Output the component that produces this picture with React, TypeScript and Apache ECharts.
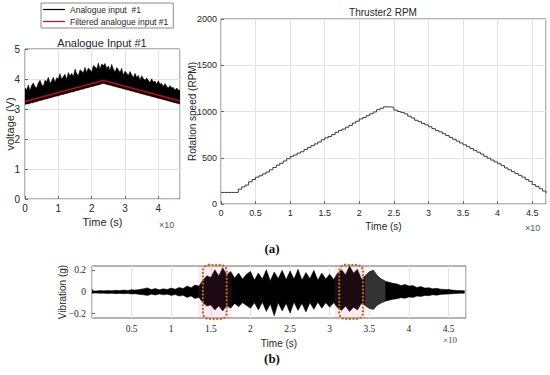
import React, { useEffect, useRef } from "react";
import * as echarts from "echarts";

// ---------- data ----------
const STEP = 0.05; // sample spacing of the envelopes below (x10 s)

// Analogue input #1: upper / lower envelope of the raw signal (V), t = 0 .. 4.65
const AIN_UP = [
  3.70, 3.64, 3.80, 3.62, 3.79, 3.87, 3.74, 3.71, 3.87, 3.96,
  3.82, 3.76, 3.96, 3.91, 4.06, 3.86, 3.93, 4.06, 3.89, 4.04,
  4.01, 4.18, 3.99, 4.08, 4.16, 3.98, 4.22, 4.10, 4.19, 4.08,
  4.33, 4.18, 4.12, 4.31, 4.26, 4.21, 4.39, 4.22, 4.37, 4.31,
  4.23, 4.45, 4.40, 4.34, 4.53, 4.33, 4.50, 4.45, 4.52, 4.36,
  4.43, 4.29, 4.49, 4.33, 4.23, 4.38, 4.31, 4.22, 4.36, 4.13,
  4.26, 4.20, 4.12, 4.25, 4.14, 4.05, 4.19, 4.06, 4.12, 3.97,
  4.11, 4.02, 3.96, 4.03, 3.96, 3.88, 4.01, 3.90, 3.93, 3.83,
  3.94, 3.83, 3.85, 3.75, 3.85, 3.76, 3.70, 3.78, 3.71, 3.72,
  3.63, 3.70, 3.63, 3.63,
];
const AIN_LO = [
  3.15, 3.17, 3.17, 3.19, 3.21, 3.21, 3.24, 3.24, 3.27, 3.28,
  3.29, 3.31, 3.33, 3.33, 3.36, 3.37, 3.38, 3.40, 3.42, 3.43,
  3.44, 3.46, 3.48, 3.48, 3.51, 3.52, 3.53, 3.55, 3.57, 3.57,
  3.60, 3.61, 3.62, 3.64, 3.66, 3.66, 3.69, 3.70, 3.71, 3.73,
  3.75, 3.75, 3.78, 3.79, 3.80, 3.82, 3.84, 3.85, 3.84, 3.82,
  3.81, 3.79, 3.78, 3.76, 3.75, 3.73, 3.72, 3.70, 3.69, 3.67,
  3.66, 3.64, 3.63, 3.61, 3.60, 3.58, 3.57, 3.55, 3.54, 3.52,
  3.51, 3.49, 3.48, 3.46, 3.45, 3.43, 3.42, 3.40, 3.39, 3.37,
  3.36, 3.34, 3.33, 3.31, 3.30, 3.28, 3.27, 3.25, 3.24, 3.22,
  3.21, 3.19, 3.18, 3.17,
];
const FILT_T = [0, 2.35, 4.65];
const FILT_V = [3.25, 3.95, 3.27];

// Thruster2 RPM, t = 0 .. 4.70
const RPM = [
  125, 125, 125, 125, 125, 160, 185, 205, 240, 265,
  290, 305, 325, 345, 370, 395, 420, 440, 465, 490,
  515, 530, 550, 565, 590, 610, 630, 650, 670, 695,
  715, 730, 750, 775, 795, 810, 830, 850, 875, 895,
  920, 935, 955, 975, 995, 1020, 1035, 1050, 1050, 1045,
  1015, 1000, 990, 975, 950, 930, 905, 890, 870, 855,
  835, 815, 795, 780, 760, 740, 720, 700, 680, 660,
  640, 620, 600, 580, 560, 540, 515, 495, 475, 455,
  435, 415, 390, 370, 350, 330, 310, 290, 265, 245,
  210, 190, 165, 140, 115,
];

// Vibration (g): upper / lower envelope, t = 0 .. 4.70
const VIB_UP = [
  0.012, 0.010, 0.013, 0.011, 0.015, 0.012, 0.016, 0.014, 0.018, 0.015,
  0.020, 0.018, 0.024, 0.030, 0.038, 0.022, 0.032, 0.020, 0.030, 0.024,
  0.036, 0.026, 0.042, 0.032, 0.055, 0.040, 0.065, 0.055, 0.110, 0.150,
  0.135, 0.205, 0.150, 0.225, 0.160, 0.190, 0.130, 0.175, 0.120, 0.165,
  0.190, 0.110, 0.175, 0.120, 0.205, 0.105, 0.185, 0.125, 0.200, 0.115,
  0.195, 0.120, 0.210, 0.110, 0.180, 0.125, 0.200, 0.110, 0.175, 0.120,
  0.165, 0.115, 0.175, 0.205, 0.160, 0.240, 0.175, 0.210, 0.120, 0.150,
  0.185, 0.200, 0.150, 0.120, 0.100, 0.090, 0.080, 0.075, 0.060, 0.070,
  0.055, 0.060, 0.042, 0.050, 0.036, 0.040, 0.030, 0.034, 0.026, 0.024,
  0.022, 0.018, 0.015, 0.013, 0.012,
];
const VIB_LO = [
  -0.012, -0.010, -0.012, -0.011, -0.014, -0.012, -0.015, -0.013, -0.016, -0.014,
  -0.018, -0.017, -0.022, -0.026, -0.032, -0.020, -0.028, -0.018, -0.026, -0.020,
  -0.032, -0.024, -0.038, -0.030, -0.050, -0.036, -0.060, -0.050, -0.100, -0.130,
  -0.120, -0.165, -0.130, -0.175, -0.125, -0.150, -0.105, -0.135, -0.100, -0.125,
  -0.150, -0.100, -0.165, -0.095, -0.180, -0.110, -0.220, -0.100, -0.175, -0.105,
  -0.195, -0.095, -0.170, -0.105, -0.185, -0.100, -0.160, -0.095, -0.150, -0.100,
  -0.140, -0.100, -0.145, -0.170, -0.130, -0.180, -0.140, -0.165, -0.105, -0.125,
  -0.150, -0.160, -0.120, -0.100, -0.085, -0.075, -0.068, -0.062, -0.052, -0.058,
  -0.046, -0.050, -0.038, -0.042, -0.032, -0.034, -0.026, -0.030, -0.022, -0.020,
  -0.019, -0.016, -0.014, -0.012, -0.011,
];
// stretch of the vibration trace that is drawn lighter (grey) in the reference
const VIB_GREY = [3.45, 3.7];

// highlighted windows in the vibration plot
const BOX_X = [
  [1.40, 1.70],
  [3.12, 3.42],
];
const SHADE_X = [
  [1.34, 1.76],
  [3.06, 3.46],
];
const VIB_Y_TICKS = [-0.2, 0, 0.2];

// ---------- helpers ----------
const tAt = (i: number) => +(i * STEP).toFixed(3);

// custom series item: one filled polygon between the upper and lower envelopes
function bandRenderer(up: number[], lo: number[], fill: string, range?: number[]) {
  return (_params: any, api: any) => {
    const n = Math.min(up.length, lo.length);
    const idx: number[] = [];
    for (let i = 0; i < n; i++) {
      const t = tAt(i);
      if (!range || (t >= range[0] - 1e-9 && t <= range[1] + 1e-9)) idx.push(i);
    }
    const pts: number[][] = [];
    for (const i of idx) pts.push(api.coord([tAt(i), up[i]]));
    for (let k = idx.length - 1; k >= 0; k--) pts.push(api.coord([tAt(idx[k]), lo[idx[k]]]));
    return {
      type: "polygon",
      shape: { points: pts },
      style: { fill, stroke: fill, lineWidth: 0.5 },
    };
  };
}

const SANS = "'Liberation Sans', Arial, Helvetica, sans-serif";
const SERIF = "'Liberation Serif', 'DejaVu Serif', serif";
const TXT = "#262626";
const BORDER = "#6a6a6a";
const GRIDC = "#e3e3e3";

export default function App() {
  const ref = useRef<HTMLDivElement>(null);

  useEffect(() => {
    if (!ref.current) return;
    const chart = echarts.init(ref.current, undefined, { renderer: "svg" });

    const tick = { show: true, inside: true, length: 3, lineStyle: { color: BORDER } };
    const hidden = { show: false };
    const nameBase = { nameLocation: "middle", nameMoveOverlap: false };

    const option: any = {
      animation: false,
      backgroundColor: "#fff",
      legend: {
        left: 41,
        top: 3,
        orient: "vertical",
        data: [
          { name: "Analogue input  #1", itemStyle: { color: "#000" } },
          { name: "Filtered analogue input #1", itemStyle: { color: "#e0001b" } },
        ],
        icon: "rect",
        itemWidth: 22,
        itemHeight: 1.2,
        itemGap: 3,
        padding: [2, 5, 2, 2],
        backgroundColor: "#fff",
        borderColor: "#8a8a8a",
        borderWidth: 1,
        textStyle: { fontSize: 8.5, fontFamily: SANS, color: TXT },
      },
      grid: [
        { left: 25, top: 49, width: 155, height: 150, show: true, borderColor: BORDER, borderWidth: 1, backgroundColor: "#fff" },
        { left: 221, top: 19, width: 325, height: 185, show: true, borderColor: BORDER, borderWidth: 1, backgroundColor: "#fff" },
        { left: 92, top: 266, width: 374, height: 52, show: true, borderColor: BORDER, borderWidth: 1, backgroundColor: "#fff" },
      ],
      xAxis: [
        {
          gridIndex: 0, type: "value", min: 0, max: 4.65, interval: 1,
          axisLine: hidden, axisTick: tick,
          axisLabel: { fontSize: 10, color: TXT, fontFamily: SANS, margin: 4, showMaxLabel: false },
          splitLine: { show: true, lineStyle: { color: GRIDC } },
          name: "Time (s)", ...nameBase, nameGap: 17,
          nameTextStyle: { fontSize: 11, color: TXT, fontFamily: SANS },
        },
        {
          gridIndex: 1, type: "value", min: 0, max: 4.7, interval: 0.5,
          axisLine: hidden, axisTick: tick,
          axisLabel: { fontSize: 9, color: TXT, fontFamily: SANS, margin: 4, showMaxLabel: false },
          splitLine: { show: true, lineStyle: { color: GRIDC } },
          name: "Time (s)", ...nameBase, nameGap: 17,
          nameTextStyle: { fontSize: 10, color: TXT, fontFamily: SANS },
        },
        {
          gridIndex: 2, type: "value", min: 0, max: 4.72, interval: 0.5,
          axisLine: hidden, axisTick: tick,
          axisLabel: {
            fontSize: 9.5, color: TXT, fontFamily: SERIF, margin: 6, showMaxLabel: false,
            formatter: (v: number) => (v === 0 ? "" : String(v)),
          },
          splitLine: { show: true, lineStyle: { color: GRIDC } },
          name: "Time (s)", ...nameBase, nameGap: 20,
          nameTextStyle: { fontSize: 10, color: TXT, fontFamily: SANS },
        },
      ],
      yAxis: [
        {
          gridIndex: 0, type: "value", min: 0, max: 5, interval: 1,
          axisLine: hidden, axisTick: tick,
          axisLabel: { fontSize: 10, color: TXT, fontFamily: SANS, margin: 5 },
          splitLine: { show: true, lineStyle: { color: GRIDC } },
          name: "voltage (V)", ...nameBase, nameGap: 10,
          nameTextStyle: { fontSize: 11, color: TXT, fontFamily: SANS },
        },
        {
          gridIndex: 1, type: "value", min: 0, max: 2000, interval: 500,
          axisLine: hidden, axisTick: tick,
          axisLabel: { fontSize: 9, color: TXT, fontFamily: SANS, margin: 4, formatter: (v: number) => String(v) },
          splitLine: { show: true, lineStyle: { color: GRIDC } },
          name: "Rotation speed (RPM)", ...nameBase, nameGap: 24,
          nameTextStyle: { fontSize: 10, color: TXT, fontFamily: SANS },
        },
        {
          gridIndex: 2, type: "value", min: -0.24, max: 0.24,
          axisLine: hidden,
          axisTick: { ...tick, customValues: VIB_Y_TICKS },
          axisLabel: {
            fontSize: 9.5, color: TXT, fontFamily: SERIF, margin: 6,
            customValues: VIB_Y_TICKS,
            formatter: (v: number) => (v < 0 ? "\u2212" + Math.abs(v) : String(v)),
          },
          splitLine: { show: false },
          name: "Vibration (g)", ...nameBase, nameGap: 25,
          nameTextStyle: { fontSize: 10, color: TXT, fontFamily: SANS },
        },
      ],
      series: [
        {
          name: "Analogue input  #1", type: "custom", xAxisIndex: 0, yAxisIndex: 0,
          data: [[0, AIN_LO[0]]], renderItem: bandRenderer(AIN_UP, AIN_LO, "#000"),
          color: "#000", itemStyle: { color: "#000" }, clip: true, z: 2,
        },
        {
          name: "Filtered analogue input #1", type: "line", xAxisIndex: 0, yAxisIndex: 0,
          data: FILT_T.map((t, i) => [t, FILT_V[i]]), showSymbol: false, symbol: "none",
          color: "#d0021b", itemStyle: { color: "#d0021b" },
          lineStyle: { color: "#d0021b", width: 1.6 }, z: 4,
        },
        {
          name: "Thruster2 RPM", type: "line", xAxisIndex: 1, yAxisIndex: 1, step: "end",
          data: RPM.map((v, i) => [tAt(i), v]), showSymbol: false, symbol: "none",
          lineStyle: { color: "#3c3c3c", width: 1 },
        },
        {
          name: "Vibration", type: "custom", xAxisIndex: 2, yAxisIndex: 2,
          data: [[0, VIB_LO[0]]], renderItem: bandRenderer(VIB_UP, VIB_LO, "#000"),
          clip: true, z: 2,
        },
        {
          name: "Vibration (grey part)", type: "custom", xAxisIndex: 2, yAxisIndex: 2,
          data: [[VIB_GREY[0], 0]], renderItem: bandRenderer(VIB_UP, VIB_LO, "#333", VIB_GREY),
          clip: true, z: 3,
        },
        {
          name: "windows", type: "custom", xAxisIndex: 2, yAxisIndex: 2, z: 10, clip: false,
          data: BOX_X.map((b, i) => [b[0], b[1], SHADE_X[i][0], SHADE_X[i][1]]),
          renderItem: (params: any, api: any) => {
            const cs = params.coordSys;
            const b0 = api.coord([api.value(0), 0])[0];
            const b1 = api.coord([api.value(1), 0])[0];
            const s0 = api.coord([api.value(2), 0])[0];
            const s1 = api.coord([api.value(3), 0])[0];
            return {
              type: "group",
              children: [
                {
                  type: "rect",
                  shape: { x: s0, y: cs.y, width: s1 - s0, height: cs.height },
                  style: { fill: "rgba(240, 70, 140, 0.12)" },
                },
                {
                  type: "rect",
                  shape: { x: b0, y: cs.y - 1, width: b1 - b0, height: cs.height + 2, r: 6 },
                  style: {
                    fill: "none", stroke: "#a8741c", lineWidth: 2.3,
                    lineDash: [0, 3.6], lineCap: "round",
                  },
                },
              ],
            };
          },
        },
      ],
      graphic: [
        { type: "text", x: 102, y: 43, style: { text: "Analogue Input #1", fontSize: 11, fontFamily: SANS, fill: TXT, textAlign: "center", textVerticalAlign: "middle" } },
        { type: "text", x: 383, y: 12, style: { text: "Thruster2 RPM", fontSize: 10, fontFamily: SANS, fill: TXT, textAlign: "center", textVerticalAlign: "middle" } },
        { type: "text", x: 159, y: 225, style: { text: "\u00d710", fontSize: 9, fontFamily: SANS, fill: "#555", textVerticalAlign: "middle" } },
        { type: "text", x: 525, y: 228, style: { text: "\u00d710", fontSize: 9, fontFamily: SANS, fill: "#555", textVerticalAlign: "middle" } },
        { type: "text", x: 443, y: 340, style: { text: "\u00d710", fontSize: 9, fontFamily: SERIF, fill: "#444", textVerticalAlign: "middle" } },
        { type: "text", x: 272, y: 248, style: { text: "(a)", fontSize: 13, fontWeight: "bold", fontFamily: SERIF, fill: "#111", textAlign: "center", textVerticalAlign: "middle" } },
        { type: "text", x: 272, y: 358, style: { text: "(b)", fontSize: 13, fontWeight: "bold", fontFamily: SERIF, fill: "#111", textAlign: "center", textVerticalAlign: "middle" } },
      ],
    };

    chart.setOption(option);
    return () => chart.dispose();
  }, []);

  return (
    <div
      ref={ref}
      style={{ position: "fixed", left: 0, top: 0, width: 550, height: 375, background: "#fff" }}
    />
  );
}
